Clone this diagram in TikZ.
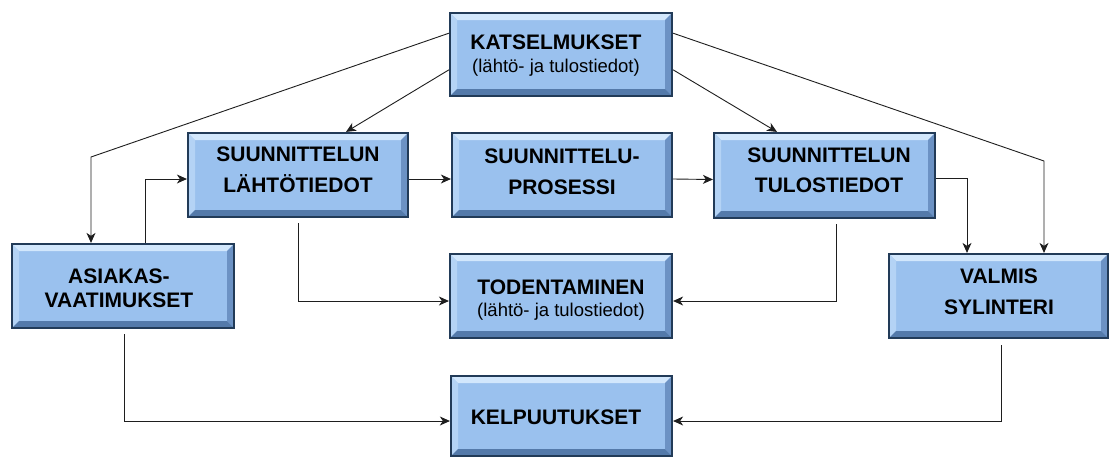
\documentclass[tikz,border=0pt]{standalone}
\usepackage{fontspec}
\setmainfont{Liberation Sans}
\usetikzlibrary{arrows.meta,calc}

\definecolor{boxfill}{HTML}{9AC1EE}
\definecolor{bevtop}{HTML}{D2E7FC}
\definecolor{bevleft}{HTML}{B4D3F5}
\definecolor{bevright}{HTML}{6C92C4}
\definecolor{bevbot}{HTML}{547AAA}
\definecolor{boxline}{HTML}{223B58}
\definecolor{wire}{HTML}{1E1E1E}

\def\bvw{7pt}

\tikzset{
  blockbox/.style={
    draw=boxline, line width=2.2pt, fill=boxfill,
    minimum width=221pt, minimum height=84pt, inner sep=0pt,
    path picture={
      \path (path picture bounding box.north west) coordinate (pNW)
            (path picture bounding box.north east) coordinate (pNE)
            (path picture bounding box.south west) coordinate (pSW)
            (path picture bounding box.south east) coordinate (pSE);
      \fill[bevtop] (pNW) -- (pNE) -- ([shift={(-\bvw,-\bvw)}]pNE) -- ([shift={(\bvw,-\bvw)}]pNW) -- cycle;
      \fill[bevleft] (pNW) -- ([shift={(\bvw,-\bvw)}]pNW) -- ([shift={(\bvw,\bvw)}]pSW) -- (pSW) -- cycle;
      \fill[bevright] (pNE) -- (pSE) -- ([shift={(-\bvw,\bvw)}]pSE) -- ([shift={(-\bvw,-\bvw)}]pNE) -- cycle;
      \fill[bevbot] (pSW) -- ([shift={(\bvw,\bvw)}]pSW) -- ([shift={(-\bvw,\bvw)}]pSE) -- (pSE) -- cycle;
    }
  },
  boxlabel/.style={align=center, inner sep=0pt, text=black,
    font=\bfseries\fontsize{21}{30.5}\selectfont},
  wireline/.style={draw=wire, line width=0.9pt,
    -{Stealth[length=10pt,width=9pt,inset=3pt]}}
}
\newcommand\subline[1]{{\mdseries\fontsize{18.5}{22}\selectfont #1}}

\begin{document}
\begin{tikzpicture}[x=1pt,y=-1pt]
  \fill[white] (0,0) rectangle (1111,459);
  \useasboundingbox (0,0) rectangle (1111,459);

  % boxes
  \node[blockbox, minimum width=222pt, minimum height=83pt] (kat) at (561,54.5) {};
  \node[blockbox, minimum width=220pt] (lah) at (298,175) {};
  \node[blockbox, minimum width=220pt] (pro) at (562,175) {};
  \node[blockbox, minimum height=85pt] (tul) at (824.5,175.5) {};
  \node[blockbox, minimum width=222pt] (asi) at (123,286) {};
  \node[blockbox, minimum width=222pt] (tod) at (561,296) {};
  \node[blockbox, minimum width=219pt] (val) at (998.5,296) {};
  \node[blockbox, minimum height=80pt] (kel) at (561.5,416) {};

  % box texts
  \node[boxlabel] (kat-t) at (556,56) {KATSELMUKSET\\[-7.5pt]\subline{(lähtö- ja tulostiedot)}};
  \node[boxlabel] (lah-t) at (298,170) {SUUNNITTELUN\\LÄHTÖTIEDOT};
  \node[boxlabel] (pro-t) at (562,172) {SUUNNITTELU-\\PROSESSI};
  \node[boxlabel] (tul-t) at (829,170.5) {SUUNNITTELUN\\TULOSTIEDOT};
  \node[boxlabel] (asi-t) at (119,288.5) {ASIAKAS-\\[-6.5pt]VAATIMUKSET};
  \node[boxlabel] (tod-t) at (561,300) {TODENTAMINEN\\[-8pt]\subline{(lähtö- ja tulostiedot)}};
  \node[boxlabel] (val-t) at (999,292) {VALMIS\\SYLINTERI};
  \node[boxlabel] (kel-t) at (556,417.5) {KELPUUTUKSET};

  % connector end points on the review box
  \coordinate (k1) at ($(kat.north west)!0.25!(kat.south west)$);
  \coordinate (k2) at ($(kat.north west)!0.68!(kat.south west)$);
  \coordinate (k3) at ($(kat.north east)!0.25!(kat.south east)$);
  \coordinate (k4) at ($(kat.north east)!0.68!(kat.south east)$);
  \coordinate (bendA) at (91,157);
  \coordinate (bendB) at (1044,161);

  % connectors
  \draw[wireline] (k1) -- (bendA) -- (bendA |- asi.north);
  \draw[wireline] (k2) -- ([xshift=48pt]lah.north);
  \draw[wireline] (k4) -- ([xshift=-47.5pt]tul.north);
  \draw[wireline] (k3) -- (bendB) -- (bendB |- val.north);

  \draw[wireline] ([xshift=22pt]asi.north) |- ([yshift=-4pt]lah.west);
  \draw[wireline] ([yshift=-4pt]lah.east) -- ([yshift=-4pt]pro.west);
  \draw[wireline] ([yshift=-4pt]pro.east) -- ([yshift=-4pt]tul.west);
  \draw[wireline] ([yshift=-3pt]tul.east) -| ([xshift=-31.5pt]val.north);

  \draw[wireline] ([yshift=-5pt]lah.south) |- ([yshift=-5pt]tod.west);
  \draw[wireline] ([xshift=11.5pt,yshift=-5pt]tul.south) |- ([yshift=-5pt]tod.east);

  \draw[wireline] ([xshift=1pt,yshift=-5pt]asi.south) |- ([yshift=-5pt]kel.west);
  \draw[wireline] ([xshift=2.5pt,yshift=-6pt]val.south) |- ([yshift=-5pt]kel.east);
\end{tikzpicture}
\end{document}
